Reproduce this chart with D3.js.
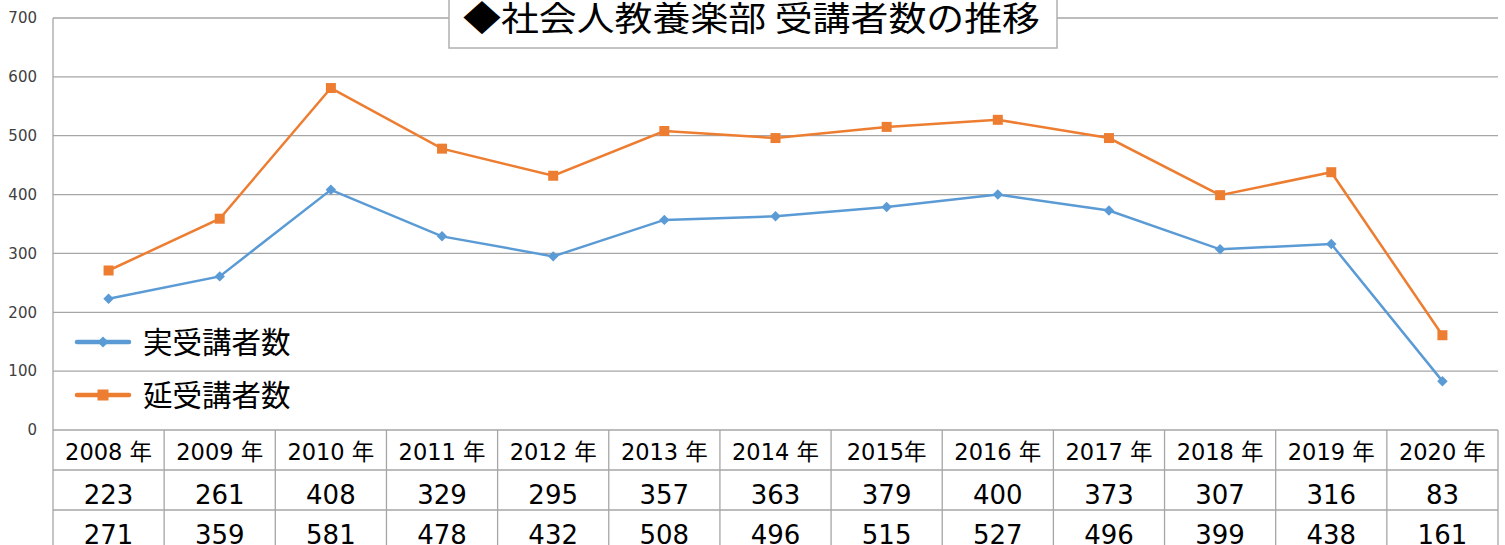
<!DOCTYPE html>
<html>
<head>
<meta charset="utf-8">
<script src="https://cdn.jsdelivr.net/npm/d3@7"></script>
<style>
  body { margin: 0; background: #fff; }
  svg { display: block; font-family: "Noto Sans CJK JP", "Noto Sans", sans-serif; }
</style>
</head>
<body>
<div id="chart"></div>
<script>
// data
const years = ["2008 年", "2009 年", "2010 年", "2011 年", "2012 年", "2013 年", "2014 年",
  "2015年", "2016 年", "2017 年", "2018 年", "2019 年", "2020 年"];
const actual = [223, 261, 408, 329, 295, 357, 363, 379, 400, 373, 307, 316, 83];
const total = [271, 359, 581, 478, 432, 508, 496, 515, 527, 496, 399, 438, 161];
const yTicks = [0, 100, 200, 300, 400, 500, 600, 700];
const seriesNames = ["実受講者数", "延受講者数"];
const title = "◆社会人教養楽部 受講者数の推移";

const width = 1505, height = 545;
const margin = { top: 18, left: 53, right: 7 };
const plotBottom = 430;

const svg = d3.select("#chart").append("svg")
  .attr("width", width)
  .attr("height", height);

// scales
const x = d3.scaleBand()
  .domain(years)
  .range([margin.left, width - margin.right]);

const y = d3.scaleLinear()
  .domain([0, 700])
  .range([plotBottom, margin.top]);

// gridlines
svg.append("g")
  .selectAll("line")
  .data(yTicks.filter(d => d > 0))
  .join("line")
  .attr("x1", margin.left)
  .attr("x2", width - margin.right)
  .attr("y1", d => y(d))
  .attr("y2", d => y(d))
  .attr("stroke", "#a6a6a6")
  .attr("stroke-width", 1.3);

// y axis labels
svg.append("g")
  .selectAll("text")
  .data(yTicks)
  .join("text")
  .attr("x", 37)
  .attr("y", d => y(d))
  .attr("dy", "0.35em")
  .attr("text-anchor", "end")
  .attr("font-family", "DejaVu Sans, sans-serif")
  .attr("font-size", 15)
  .attr("fill", "#404040")
  .text(d => d);

// left axis line, continues through the table
svg.append("line")
  .attr("x1", margin.left).attr("x2", margin.left)
  .attr("y1", margin.top).attr("y2", height)
  .attr("stroke", "#a6a6a6").attr("stroke-width", 1.3);

// data table
const rowLines = [plotBottom, 470, 510];
svg.append("g")
  .selectAll("line")
  .data(rowLines)
  .join("line")
  .attr("x1", margin.left)
  .attr("x2", width - margin.right)
  .attr("y1", d => d)
  .attr("y2", d => d)
  .attr("stroke", "#a6a6a6")
  .attr("stroke-width", 1.3);

svg.append("g")
  .selectAll("line")
  .data(years)
  .join("line")
  .attr("x1", d => x(d) + x.bandwidth())
  .attr("x2", d => x(d) + x.bandwidth())
  .attr("y1", plotBottom)
  .attr("y2", height)
  .attr("stroke", "#a6a6a6")
  .attr("stroke-width", 1.3);

svg.append("g")
  .selectAll("text")
  .data(years)
  .join("text")
  .attr("x", d => x(d) + x.bandwidth() / 2)
  .attr("y", 460)
  .attr("text-anchor", "middle")
  .attr("font-family", "DejaVu Sans, Noto Sans CJK JP, sans-serif")
  .attr("font-size", 22.5)
  .attr("fill", "#000")
  .text(d => d);

const tableRows = [actual, total];
tableRows.forEach((row, i) => {
  svg.append("g")
    .selectAll("text")
    .data(row)
    .join("text")
    .attr("x", (d, j) => x(years[j]) + x.bandwidth() / 2)
    .attr("y", 504 + i * 40)
    .attr("text-anchor", "middle")
    .attr("font-family", "DejaVu Sans, sans-serif")
    .attr("font-size", 26)
    .attr("fill", "#000")
    .text(d => d);
});

// lines
const line = d3.line()
  .x((d, i) => x(years[i]) + x.bandwidth() / 2)
  .y(d => y(d));

const colors = ["#5b9bd5", "#ed7d31"];
const seriesData = [actual, total];

seriesData.forEach((data, s) => {
  svg.append("path")
    .datum(data)
    .attr("fill", "none")
    .attr("stroke", colors[s])
    .attr("stroke-width", 2.5)
    .attr("d", line);

  const pts = svg.append("g")
    .selectAll("path")
    .data(data)
    .join("path")
    .attr("transform", (d, i) => `translate(${x(years[i]) + x.bandwidth() / 2},${y(d)})`)
    .attr("fill", colors[s]);
  if (s === 0) {
    pts.attr("d", d3.symbol(d3.symbolDiamond2, 70));
  } else {
    pts.attr("d", "M-5,-5H5V5H-5Z");
  }
});

// legend
const legend = svg.append("g");
seriesNames.forEach((name, i) => {
  const ly = 342 + i * 53;
  legend.append("line")
    .attr("x1", 77).attr("x2", 129)
    .attr("y1", ly).attr("y2", ly)
    .attr("stroke", colors[i])
    .attr("stroke-width", 4.5)
    .attr("stroke-linecap", "round");
  legend.append("path")
    .attr("transform", `translate(103,${ly})`)
    .attr("fill", colors[i])
    .attr("d", i === 0 ? d3.symbol(d3.symbolDiamond2, 80) : "M-5.5,-5.5H5.5V5.5H-5.5Z");
  legend.append("text")
    .attr("x", 143)
    .attr("y", ly + 11)
    .attr("font-size", 29.5)
    .attr("fill", "#000")
    .text(name);
});

// title box
svg.append("rect")
  .attr("x", 449).attr("y", -5)
  .attr("width", 608).attr("height", 53)
  .attr("fill", "#fff")
  .attr("stroke", "#b0b0b0")
  .attr("stroke-width", 1.5);

svg.append("text")
  .attr("x", 463)
  .attr("y", 31)
  .attr("font-size", 34)
  .attr("textLength", 577)
  .attr("lengthAdjust", "spacingAndGlyphs")
  .attr("fill", "#000")
  .text(title);
</script>
</body>
</html>
